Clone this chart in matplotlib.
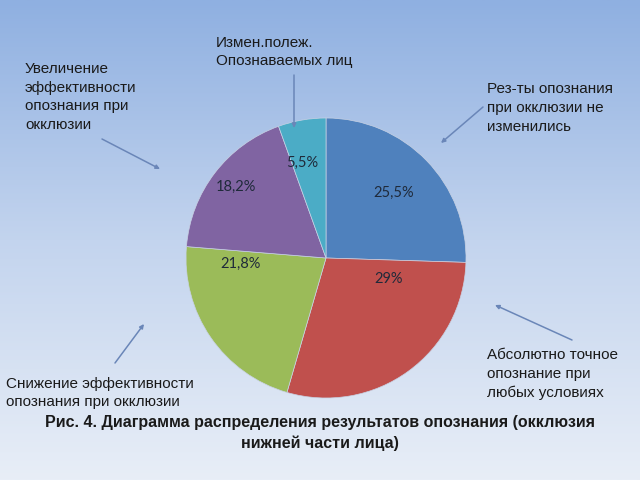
import numpy as np
import matplotlib
matplotlib.use('Agg')
from matplotlib import pyplot as plt
from matplotlib.colors import LinearSegmentedColormap

# data
shares = [25.5, 29, 21.8, 18.2, 5.5]
pct_labels = ['25,5%', '29%', '21,8%', '18,2%', '5,5%']
colors = ['#4f81bd', '#c0504d', '#9bbb59', '#8064a2', '#4bacc6']
# where the percent labels sit (pixels, as placed in the original)
pct_pos = [(394, 193), (389, 279), (241, 264), (236, 187), (302, 163)]

captions = [
    'Рез-ты опознания\nпри окклюзии не\nизменились',
    'Абсолютно точное\nопознание при\nлюбых условиях',
    'Снижение эффективности\nопознания при окклюзии',
    'Увеличение\nэффективности\nопознания при\nокклюзии',
    'Измен.полеж.\nОпознаваемых лиц',
]
caption_pos = [(487, 108), (487, 374), (6, 393), (25, 97), (216, 52)]
arrow_from = [(483, 107), (572, 340), (115, 363), (102, 139), (294, 75)]
arrow_to = [(441, 143), (495, 305), (144, 324), (160, 169), (294, 128)]

title = 'Рис. 4. Диаграмма распределения результатов опознания (окклюзия\nнижней части лица)'

W, H = 640, 480
fig = plt.figure(figsize=(6.4, 4.8), dpi=100)
ax = fig.add_axes([0, 0, 1, 1])
ax.set_xlim(0, W)
ax.set_ylim(0, H)
ax.axis('off')

# background gradient, blue on top to pale at bottom
cmap = LinearSegmentedColormap.from_list('bg', ['#e8eef7', '#c3d4ee', '#8fb0e1'])
grad = np.linspace(0, 1, 256).reshape(-1, 1)
ax.imshow(grad, extent=[0, W, 0, H], origin='lower', aspect='auto', cmap=cmap, zorder=0)

cx, cy, r = 326, H - 258, 140
wedges, _ = ax.pie(shares, colors=colors, startangle=90, counterclock=False,
                   center=(cx, cy), radius=r, frame=True,
                   wedgeprops=dict(linewidth=0.5, edgecolor='#c8d2e4'))
for w in wedges:
    w.set_zorder(2)
ax.set_xlim(0, W)
ax.set_ylim(0, H)
ax.set_aspect('equal')
ax.axis('off')

for lab, (px, py) in zip(pct_labels, pct_pos):
    ax.text(px, H - py, lab, ha='center', va='center', fontsize=10.5,
            family=['Lato', 'DejaVu Sans'], color='#1f2a3a', zorder=3)

txt_font = ['Liberation Sans Narrow', 'Liberation Sans', 'DejaVu Sans']
for cap, (px, py) in zip(captions, caption_pos):
    ax.text(px, H - py, cap, ha='left', va='center', fontsize=11,
            family=txt_font, color='#1a1a1a', linespacing=1.45, zorder=3)

for (x0, y0), (x1, y1) in zip(arrow_from, arrow_to):
    ax.annotate('', xy=(x1, H - y1), xytext=(x0, H - y0),
                arrowprops=dict(arrowstyle='-|>', color='#6a86b8', lw=1.1,
                                mutation_scale=6, shrinkA=0, shrinkB=0),
                zorder=3)

ax.text(320, H - 433, title, ha='center', va='center', fontsize=11.5,
        fontweight='bold', family=txt_font, color='#1a1a1a', linespacing=1.4, zorder=3)

fig.savefig('out.png', dpi=100)
